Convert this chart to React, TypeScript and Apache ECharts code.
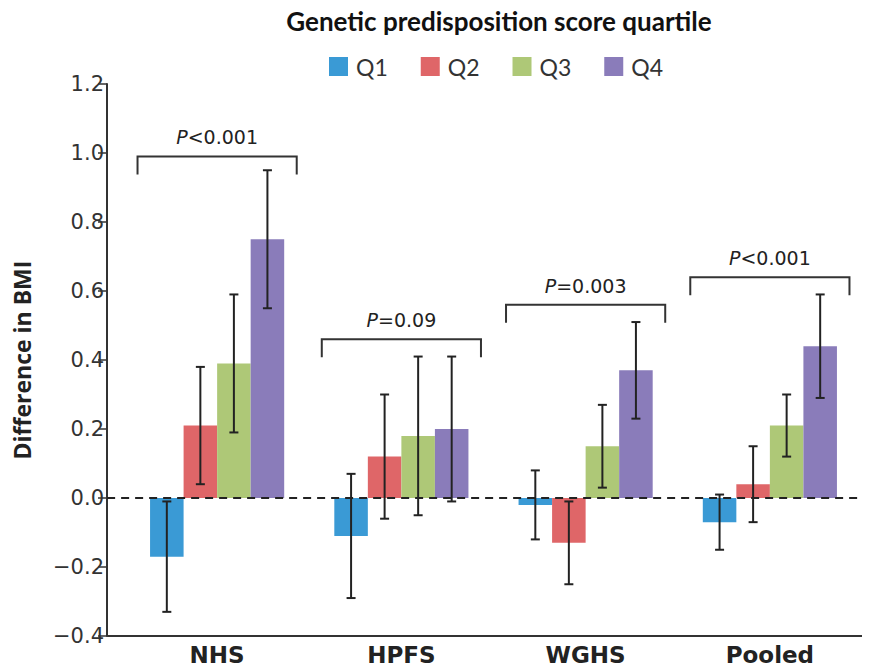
import React, { useEffect, useRef } from "react";
import * as echarts from "echarts";

const categories = ["NHS", "HPFS", "WGHS", "Pooled"];
const quartiles = ["Q1", "Q2", "Q3", "Q4"];
const quartileColors = ["#3a9ad5", "#df6668", "#aec877", "#8a7cba"];

const q1Values = [-0.17, -0.11, -0.02, -0.07];
const q1Lower = [-0.33, -0.29, -0.12, -0.15];
const q1Upper = [-0.01, 0.07, 0.08, 0.01];

const q2Values = [0.21, 0.12, -0.13, 0.04];
const q2Lower = [0.04, -0.06, -0.25, -0.07];
const q2Upper = [0.38, 0.3, -0.01, 0.15];

const q3Values = [0.39, 0.18, 0.15, 0.21];
const q3Lower = [0.19, -0.05, 0.03, 0.12];
const q3Upper = [0.59, 0.41, 0.27, 0.3];

const q4Values = [0.75, 0.2, 0.37, 0.44];
const q4Lower = [0.55, -0.01, 0.23, 0.29];
const q4Upper = [0.95, 0.41, 0.51, 0.59];

const pLabels = ["<0.001", "=0.09", "=0.003", "<0.001"];
const bracketLevels = [0.99, 0.46, 0.56, 0.64];

const yMin = -0.4;
const yMax = 1.2;
const yInterval = 0.2;

const BAR_FRAC = 0.182;

export default function App() {
  const ref = useRef<HTMLDivElement>(null);

  useEffect(() => {
    if (!ref.current) return;
    const chart = echarts.init(ref.current, null, { renderer: "svg" });

    const values = [q1Values, q2Values, q3Values, q4Values];
    const lowers = [q1Lower, q2Lower, q3Lower, q4Lower];
    const uppers = [q1Upper, q2Upper, q3Upper, q4Upper];

    const errData: number[][] = [];
    for (let q = 0; q < 4; q++) {
      for (let c = 0; c < categories.length; c++) {
        errData.push([c, q, lowers[q][c], uppers[q][c]]);
      }
    }
    const bracketData = categories.map((_, c) => [c, bracketLevels[c]]);

    const barSeries = quartiles.map((name, q) => ({
      name,
      type: "bar",
      data: values[q],
      barWidth: BAR_FRAC * 100 + "%",
      barGap: "0%",
      itemStyle: { color: quartileColors[q] },
      z: 2,
    }));

    const option: any = {
      animation: false,
      title: {
        text: "Genetic predisposition score quartile",
        left: 494,
        top: 3,
        textAlign: "center",
        textStyle: {
          fontFamily: "Lato",
          fontWeight: "bold",
          fontSize: 26,
          color: "#111",
        },
      },
      legend: {
        data: quartiles,
        left: 324,
        top: 50,
        itemWidth: 19,
        itemHeight: 19,
        itemGap: 33,
        icon: "rect",
        textStyle: {
          fontFamily: "Lato",
          fontSize: 23,
          color: "#333",
          padding: [0, 0, 0, 3],
        },
      },
      grid: {
        left: 125,
        right: 8,
        top: 84,
        bottom: 36,
        containLabel: false,
        outerBoundsMode: "none",
      },
      xAxis: {
        type: "category",
        data: categories,
        axisLine: { show: false },
        axisTick: { show: false },
        axisLabel: {
          margin: 7,
          fontFamily: "DejaVu Sans",
          fontWeight: "bold",
          fontSize: 23,
          color: "#222",
        },
      },
      yAxis: {
        type: "value",
        min: yMin,
        max: yMax,
        interval: yInterval,
        offset: 18,
        name: "Difference in BMI",
        nameLocation: "middle",
        nameRotate: 90,
        nameGap: 74,
        nameTextStyle: {
          fontFamily: "Open Sans",
          fontWeight: "bold",
          fontSize: 23,
          color: "#222",
        },
        axisLine: { show: true, lineStyle: { color: "#333", width: 2 } },
        axisTick: { show: true, length: 9, lineStyle: { color: "#333", width: 1.5 } },
        splitLine: { show: false },
        axisLabel: {
          margin: 3,
          fontFamily: "DejaVu Sans",
          fontSize: 21,
          color: "#333",
          formatter: (v: number) => v.toFixed(1).replace("-", "\u2212"),
        },
      },
      series: [
        ...barSeries,
        {
          type: "custom",
          name: "err",
          data: errData,
          encode: { x: 0, y: [2, 3] },
          z: 5,
          renderItem: (params: any, api: any) => {
            const c = api.value(0);
            const q = api.value(1);
            const lo = api.coord([c, api.value(2)]);
            const hi = api.coord([c, api.value(3)]);
            const bandW = api.size([1, 0])[0];
            const x = lo[0] + (q - 1.5) * bandW * BAR_FRAC;
            const cap = 4.5;
            const style = { stroke: "#222", lineWidth: 2 };
            return {
              type: "group",
              children: [
                { type: "line", shape: { x1: x, y1: lo[1], x2: x, y2: hi[1] }, style },
                { type: "line", shape: { x1: x - cap, y1: lo[1], x2: x + cap, y2: lo[1] }, style },
                { type: "line", shape: { x1: x - cap, y1: hi[1], x2: x + cap, y2: hi[1] }, style },
              ],
            };
          },
        },
        {
          type: "custom",
          name: "brackets",
          data: bracketData,
          encode: { x: 0, y: 1 },
          z: 5,
          renderItem: (params: any, api: any) => {
            const c = api.value(0);
            const pt = api.coord([c, api.value(1)]);
            const bandW = api.size([1, 0])[0];
            const hw = bandW * 0.432;
            const leg = 18;
            return {
              type: "group",
              children: [
                {
                  type: "polyline",
                  shape: {
                    points: [
                      [pt[0] - hw, pt[1] + leg],
                      [pt[0] - hw, pt[1]],
                      [pt[0] + hw, pt[1]],
                      [pt[0] + hw, pt[1] + leg],
                    ],
                  },
                  style: { stroke: "#333", lineWidth: 2, fill: "none" },
                },
                {
                  type: "text",
                  x: pt[0],
                  y: pt[1] - 19,
                  style: {
                    text: "{i|P}{n|" + pLabels[params.dataIndex] + "}",
                    align: "center",
                    verticalAlign: "middle",
                    rich: {
                      i: {
                        fontFamily: "DejaVu Sans",
                        fontStyle: "italic",
                        fontSize: 19,
                        fill: "#222",
                        color: "#222",
                      },
                      n: {
                        fontFamily: "DejaVu Sans",
                        fontSize: 19,
                        fill: "#222",
                        color: "#222",
                      },
                    },
                  },
                },
              ],
            };
          },
        },
      ],
    };

    chart.setOption(option);

    const y0 = chart.convertToPixel({ yAxisIndex: 0 }, 0) as number;
    const yB = chart.convertToPixel({ yAxisIndex: 0 }, yMin) as number;
    const xLeft = (chart.convertToPixel({ xAxisIndex: 0 }, 0) as number) - 110;
    const xRight = 868;
    chart.setOption({
      graphic: [
        {
          type: "line",
          shape: { x1: xLeft, y1: yB, x2: xRight, y2: yB },
          style: { stroke: "#333", lineWidth: 2 },
          z: 10,
        },
        {
          type: "line",
          shape: { x1: xLeft, y1: y0, x2: xRight, y2: y0 },
          style: { stroke: "#222", lineWidth: 2, lineDash: [8, 6] },
          z: 10,
        },
      ],
    });

    return () => chart.dispose();
  }, []);

  return <div ref={ref} style={{ width: 870, height: 672, margin: -8 }} />;
}
